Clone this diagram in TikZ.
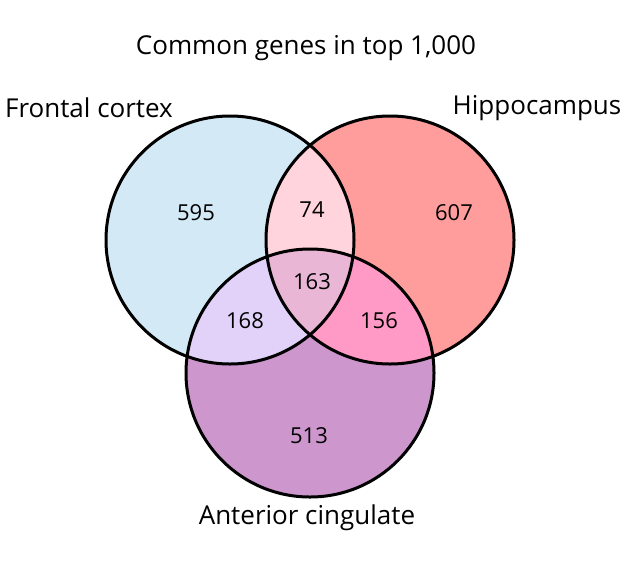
\documentclass[tikz,border=0pt]{standalone}
\usepackage{fontspec}
\setmainfont{Open Sans}
\definecolor{cF}{HTML}{D3EAF6}
\definecolor{cH}{HTML}{FF9D9D}
\definecolor{cA}{HTML}{CD97CD}
\definecolor{cFH}{HTML}{FFD4DC}
\definecolor{cFA}{HTML}{E2D2FA}
\definecolor{cHA}{HTML}{FF99C6}
\definecolor{cFHA}{HTML}{E9B6D5}
\begin{document}
\begin{tikzpicture}[x=1pt,y=-1pt,
  lab/.style={font=\fontsize{26}{30}\selectfont},
  num/.style={font=\fontsize{22}{26}\selectfont},
  ring/.style={draw=black,line width=3pt}]
\useasboundingbox (0,0) rectangle (639,560);
\def\F{(230,240) circle (124)}
\def\H{(390,240) circle (124)}
\def\A{(310,373) circle (124)}
\fill[cF] \F; \fill[cH] \H; \fill[cA] \A;
\begin{scope}\clip \F; \fill[cFH] \H; \fill[cFA] \A; \end{scope}
\begin{scope}\clip \H; \fill[cHA] \A; \end{scope}
\begin{scope}\clip \F; \clip \H; \fill[cFHA] \A; \end{scope}
\draw[ring] \F; \draw[ring] \H; \draw[ring] \A;
\node[lab] (t) at (306,48) {Common genes in top 1,000};
\node[lab] (lf) at (89,108) {Frontal cortex};
\node[lab] (lh) at (537,108) {Hippocampus};
\node[lab] (la) at (307,518) {Anterior cingulate};
\node[num] (n1) at (196,213) {595};
\node[num] (n2) at (312,210) {74};
\node[num] (n3) at (454,213) {607};
\node[num] (n4) at (312,282) {163};
\node[num] (n5) at (245,321) {168};
\node[num] (n6) at (379,321) {156};
\node[num] (n7) at (309,436) {513};
\end{tikzpicture}
\end{document}
